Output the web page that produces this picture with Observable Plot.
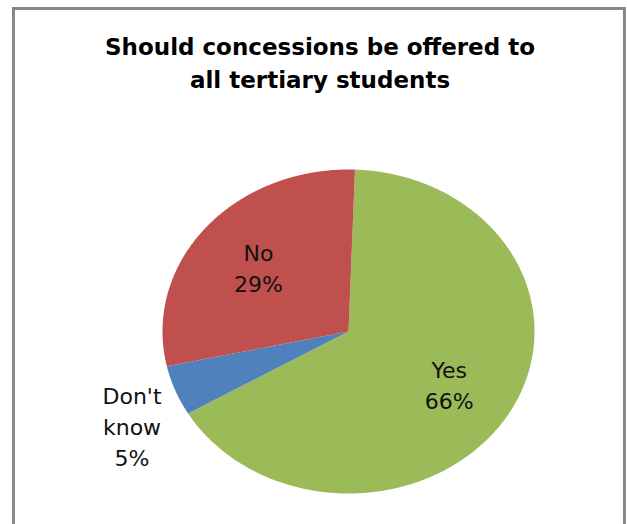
<!DOCTYPE html>
<html>
<head>
<meta charset="utf-8">
<script src="https://cdn.jsdelivr.net/npm/d3@7"></script>
<script src="https://cdn.jsdelivr.net/npm/@observablehq/plot@0.6"></script>
<style>
  html, body { margin: 0; padding: 0; background: #fff; }
  #wrap { position: relative; width: 627px; height: 524px; overflow: hidden; background: #fff; }
  #frame { position: absolute; left: 12px; top: 7px; width: 614px; height: 560px; box-sizing: border-box; border: 3px solid #888; }
  #title { position: absolute; left: 0; top: 31px; width: 640px; text-align: center;
           font-family: "DejaVu Sans", sans-serif; font-weight: bold; font-size: 23px; line-height: 33px; color: #000; }
  #chart { position: absolute; left: 0; top: 100px; }
</style>
</head>
<body>
<div id="wrap">
  <div id="frame"></div>
  <div id="title">Should concessions be offered to<br>all tertiary students</div>
  <div id="chart"></div>
</div>
<script>
// Data
const categories = ["Yes", "Don't know", "No"];
const values = [66, 5, 29];
const labelTexts = ["Yes\n66%", "Don't\nknow\n5%", "No\n29%"];
const colors = ["#9BBB59", "#4F81BD", "#C0504D"];
const outside = [false, true, false];

const rotation = 2 * Math.PI / 180;
const table = categories.map((c, i) => ({category: c, value: values[i], label: labelTexts[i], outside: outside[i]}));
const arcs = d3.pie().sort(null).value(d => d.value).startAngle(rotation).endAngle(rotation + 2 * Math.PI)(table);

// slice polygons in unit-circle coordinates (angle 0 at 12 o'clock, clockwise)
const slicePts = [];
for (const a of arcs) {
  slicePts.push({category: a.data.category, x: 0, y: 0});
  const n = Math.max(2, Math.ceil((a.endAngle - a.startAngle) / (Math.PI / 360)));
  for (let k = 0; k <= n; k++) {
    const t = a.startAngle + (a.endAngle - a.startAngle) * k / n;
    slicePts.push({category: a.data.category, x: Math.sin(t), y: Math.cos(t)});
  }
  slicePts.push({category: a.data.category, x: 0, y: 0});
}
const labelPts = arcs.map(a => {
  const m = (a.startAngle + a.endAngle) / 2;
  const r = a.data.outside ? 1.25 : 0.63;
  return {label: a.data.label, outside: a.data.outside, x: r * Math.sin(m), y: r * Math.cos(m)};
});

const chart = Plot.plot({
  width: 627,
  height: 424,
  margin: 0,
  style: {background: "transparent", fontFamily: "DejaVu Sans, sans-serif"},
  x: {domain: [-1, 1], range: [162, 534], axis: null},
  y: {domain: [-1, 1], range: [393, 69], axis: null},
  color: {domain: categories, range: colors},
  marks: [
    Plot.line(slicePts, {x: "x", y: "y", z: "category", fill: "category", stroke: "none", curve: "linear-closed"}),
    Plot.text(labelPts.filter(d => !d.outside), {x: "x", y: "y", text: "label", fontSize: 22, lineHeight: 1.41, fill: "#111"}),
    Plot.text(labelPts.filter(d => d.outside), {x: "x", y: "y", text: "label", fontSize: 22, lineHeight: 1.41, fill: "#111", dy: 20})
  ]
});
document.getElementById("chart").appendChild(chart);
</script>
</body>
</html>
